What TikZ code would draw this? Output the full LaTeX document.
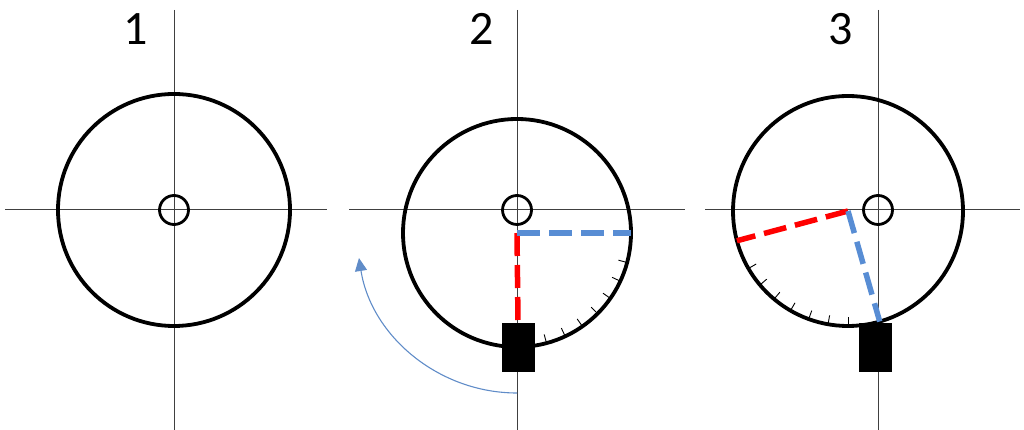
\documentclass[tikz,border=0pt]{standalone}
\usepackage{fontspec}
\setmainfont{Carlito}
\usetikzlibrary{calc,arrows.meta}
\definecolor{dashred}{RGB}{255,0,0}
\definecolor{dashblue}{RGB}{88,141,212}
\definecolor{turnblue}{RGB}{96,140,200}

\begin{document}
\begin{tikzpicture}[x=1pt,y=1pt,
		axis/.style={line width=1pt,draw=black!75},
		disc/.style={circle,draw,line width=3.8pt,minimum size=#1,inner sep=0pt,outer sep=0pt},
		hole/.style={circle,draw,line width=2.8pt,minimum size=29pt,inner sep=0pt,outer sep=0pt},
		weight/.style={rectangle,fill=black,minimum width=33pt,minimum height=49pt,inner sep=0pt,outer sep=0pt},
		arm/.style={line width=5.5pt,dash pattern=on 23pt off 9pt},
		tick/.style={line width=0.9pt},
		label/.style={font=\fontsize{48}{48}\selectfont,anchor=base}]
	\useasboundingbox (0,0) rectangle (1024,430);
	% axes
	\coordinate (v1t) at (174,420); \coordinate (v1b) at (174,0);
	\coordinate (h1l) at (5,220); \coordinate (h1r) at (327,220);
	\coordinate (v2t) at (517,420); \coordinate (v2b) at (517,0);
	\coordinate (h2l) at (349,220); \coordinate (h2r) at (685,220);
	\coordinate (v3t) at (878,420); \coordinate (v3b) at (878,0);
	\coordinate (h3l) at (705,220); \coordinate (h3r) at (1020,220);
	\draw[axis] (v1t) -- (v1b) (h1l) -- (h1r);
	\draw[axis] (v2t) -- (v2b) (h2l) -- (h2r);
	\draw[axis] (v3t) -- (v3b) (h3l) -- (h3r);
	% labels
	\node[label] (n1) at (136,385) {1};
	\node[label] (n2) at (482,385) {2};
	\node[label] (n3) at (841,385) {3};
	% discs and holes
	\node[disc=232pt] (d1) at (174,220) {};
	\node[hole] (o1) at (174,220) {};
	\node[disc=228pt] (d2) at (517,197) {};
	\coordinate (c2) at (517,197);
	\node[hole] (o2) at (517,220) {};
	\node[disc=230pt] (d3) at (848,219) {};
	\coordinate (c3) at (848,219);
	\node[hole] (o3) at (878,220) {};
	% weights
	\node[weight] (b2) at (518,82.5) {};
	\node[weight] (b3) at (875,82.5) {};
	% ticks
	\foreach \a in {285,295,...,345}
		\draw[tick] (d2.\a) -- ($(d2.\a)!9pt!(c2)$);
	\foreach \a in {210,220,...,270}
		\draw[tick] (d3.\a) -- ($(d3.\a)!9pt!(c3)$);
	% arms
	\draw[arm,dashred] (c2) -- (b2.north);
	\draw[arm,dashblue] (c2) -- (d2.0);
	\draw[arm,dashred] (c3) -- (d3.195);
	\draw[arm,dashblue] (c3) -- (d3.286);
	% turning arrow
	\coordinate (turn) at ($(c2)+(0,-160)$);
	\draw[turnblue,line width=1.1pt,-{Triangle[width=12pt,length=13pt]}]
		(turn) arc[start angle=270,end angle=189,radius=160];
\end{tikzpicture}
\end{document}
